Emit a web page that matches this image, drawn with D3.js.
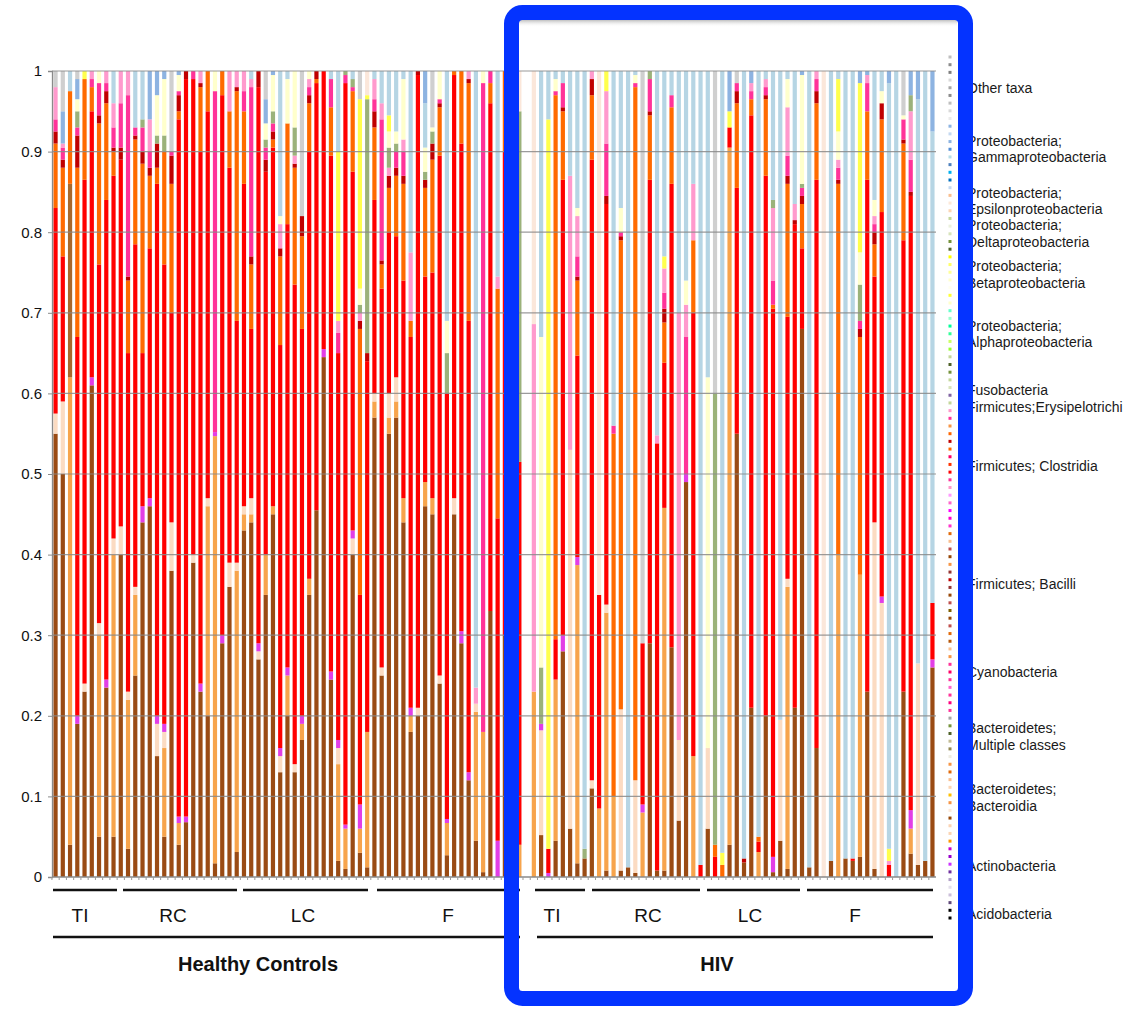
<!DOCTYPE html>
<html><head><meta charset="utf-8">
<script src="https://cdn.jsdelivr.net/npm/d3@7"></script>
<style>body{margin:0;background:#fff;} svg{display:block;font-family:"Liberation Sans",Arial,Helvetica,sans-serif;}</style>
</head><body><svg id="c" width="1127" height="1009"></svg>
<script>
// ---------- categories ----------
const groupNames = ["HC-TI","HC-RC","HC-LC","HC-F","gap","HIV-TI","HIV-RC","HIV-LC","HIV-F"];
const groupSizes = [9,17,18,21,1,8,16,14,18];
const groupLabels = ["TI","RC","LC","F","TI","RC","LC","F"];
const cohortLabels = ["Healthy Controls","HIV"];
const yTicks = [0,0.1,0.2,0.3,0.4,0.5,0.6,0.7,0.8,0.9,1];

// ---------- series values (relative abundance per sample, bottom -> top) ----------
const brown = [.55,.50,.04,.19,.23,.61,.05,.235,.05,.40,
 .035,.25,.44,.46,.15,.05,.38,.04,.068,.39,
 .23,.20,.017,.29,.36,.031,.43,.44,.27,.35,
 .45,.13,.20,.13,.17,.35,.455,.645,.245,.02,
 .01,.40,.03,.012,.57,.25,.55,.57,.44,.18,
 .20,.46,.45,.24,.027,.45,.29,.12,.045,.006,
 .33,0,.30,.20,0,0,0,.052,0,.045,
 .28,.06,.017,.023,.11,0,.008,0,.008,.012,
 .005,0,.29,.008,.008,.285,.07,.49,0,0,
 .06,0,0,.04,.55,.018,.21,0,.20,.006,
 .045,.01,.21,.68,.012,.16,0,.02,0,.023,
 .02,.025,.23,.01,0,0,0,.23,.029,.015,
 .02,.26];
const lorange = [0,0,.58,0,0,0,.25,0,.35,0,
 .185,.10,0,0,0,.11,0,.027,0,0,
 0,.26,.53,0,0,.349,.02,.01,0,.05,
 .01,0,.05,0,.02,.02,0,0,0,.12,
 .05,0,.03,.168,.02,0,.02,.02,.03,.02,
 0,.03,.02,0,.04,0,0,0,.16,.174,
 0,0,0,0,.04,0,.23,0,0,.20,
 0,0,.37,0,0,.085,.32,.10,0,0,
 0,.08,0,0,.45,0,0,0,.15,0,
 0,0,0,.865,0,0,0,.031,0,0,
 0,.35,0,0,0,0,0,0,.40,0,
 0,.35,0,0,0,0,0,0,.031,0,
 0,0];
const peach = [.025,.09,0,0,.01,0,.015,0,.02,.035,
 .01,.01,0,0,.04,.02,.06,0,0,.01,
 0,.01,0,0,.03,.01,.01,.02,.01,0,
 0,.02,0,.01,0,0,0,0,0,.02,
 0,.02,0,0,.01,.01,.03,.03,0,0,
 .01,0,0,.01,0,.02,0,0,.01,0,
 0,0,0,0,0,0,0,.13,0,0,
 0,.47,0,0,.01,0,.01,0,.20,0,
 .115,0,0,0,0,0,.10,0,0,0,
 .10,0,0,0,0,0,0,0,0,0,
 .15,.01,0,0,0,0,0,0,0,0,
 0,0,0,.43,.34,0,0,0,0,.25,
 0,0];
const magenta = [0,0,0,.01,0,.01,0,.01,0,0,
 0,0,.02,.01,.01,.01,0,.008,.007,0,
 .01,0,.005,.01,0,0,0,0,.01,0,
 0,.01,.01,0,.01,0,0,.01,.01,.01,
 .005,.01,.03,0,0,0,0,0,0,.01,
 0,0,0,0,.005,0,.015,.01,0,0,
 0,.045,0,0,0,0,0,.008,.005,0,
 .02,0,.01,0,0,0,0,0,0,0,
 0,.01,0,0,0,0,0,.01,0,0,
 0,0,0,0,0,0,0,0,0,.019,
 0,0,0,0,0,0,0,0,0,0,
 0,0,0,0,.008,0,0,0,.023,0,
 0,.01];
const tan = [0,0,.24,0,0,0,0,0,0,0,
 0,0,0,0,0,0,0,0,0,0,
 0,0,0,0,0,0,0,0,0,0,
 0,0,0,0,0,0,0,0,0,0,
 0,0,0,0,0,0,0,0,0,0,
 0,0,0,0,0,0,0,0,0,0,
 0,0,0,0,0,0,0,0,0,0,
 0,0,0,0,0,0,0,0,0,0,
 0,0,0,0,0,0,0,0,0,0,
 0,0,0,0,0,0,0,0,0,0,
 0,0,0,0,0,0,0,0,0,0,
 0,0,0,0,0,0,0,0,0,0,
 0,0];
const red = [.255,.18,0,.47,.625,.33,.445,.595,.45,.455,
 .42,.425,.19,.31,.66,.57,.26,.865,.915,.59,
 .66,.48,0,.67,.49,.30,.40,.21,.69,.475,
 .445,.50,.55,.595,.48,.53,.53,.345,.64,.48,
 .92,.445,.26,.46,.24,.47,.20,.175,.27,.46,
 .785,.255,.28,.645,.528,.525,.605,.56,0,0,
 .63,.40,.60,.70,.475,0,0,0,.03,.05,
 .565,0,.25,0,.77,.265,.497,0,0,0,
 0,.20,.575,.53,.18,.575,0,0,.55,.015,
 0,.025,0,.025,.305,0,.735,.013,.67,.68,
 0,.325,.60,.10,0,.705,0,0,0,0,
 .003,0,.635,.305,.477,.015,0,.56,.762,0,
 0,.07];
const orange = [.08,.11,.115,.21,.125,.03,.175,.12,.03,0,
 .09,.13,.235,.09,.02,.14,.16,.01,0,0,
 .08,.05,0,.03,.07,.285,.09,.08,0,0,
 .01,.11,.125,.145,.115,.06,.005,0,.06,0,
 0,.10,.33,0,.09,.03,.055,.075,.12,.02,
 0,.11,.14,.06,0,.005,.09,.295,0,0,
 .025,.285,.10,0,0,0,0,0,0,.675,
 .085,0,.093,0,.08,0,0,.45,.582,0,
 .86,0,.08,0,.05,.095,0,0,.09,0,
 0,.015,.015,0,.105,0,.02,.006,.095,.005,
 0,.165,0,.055,0,.095,0,0,.46,0,
 0,.295,.085,.04,.115,0,0,.12,0,0,
 0,0];
const dred = [.015,.01,0,.04,0,0,.01,.015,.005,.015,
 .005,.005,.015,.01,.03,0,.035,.02,.01,0,
 .005,0,0,0,0,.005,0,.01,.02,.015,
 .01,.01,0,.005,.025,.01,.01,0,0,0,
 0,0,.01,.01,.02,.005,.015,.01,.01,0,
 .005,.01,.02,.005,0,0,0,.005,0,0,
 0,0,0,0,0,0,0,0,0,0,
 .005,0,.005,0,.02,0,.01,0,.005,0,
 0,0,.005,0,.017,0,0,0,0,0,
 0,0,0,0,.015,.005,0,0,.005,0,
 0,.01,.005,.01,0,.015,0,0,.005,0,
 0,.01,0,.015,.02,0,0,.005,.005,0,
 0,0];
const hpink = [.015,.015,0,.01,0,.01,.04,.01,.025,.055,
 .225,.01,.03,.02,0,0,.005,.005,0,.01,
 0,0,.423,0,0,0,.025,.21,0,.015,
 .01,0,0,0,0,.01,0,0,.035,.025,
 .01,.005,0,0,.015,.175,0,.02,.03,0,
 0,0,0,.005,0,0,0,0,0,.805,
 .015,0,0,0,0,0,0,0,0,.005,
 .03,0,.025,0,0,0,.065,.01,.005,0,
 .005,0,.04,0,.02,.015,0,.17,0,0,
 0,0,0,0,.01,0,.01,0,.01,.03,
 0,.025,0,.01,0,.015,0,0,.015,0,
 0,.01,.035,.01,0,0,0,.025,.04,0,
 0,0];
const lpink = [.04,.005,0,0,0,.01,0,.015,.03,.04,
 .03,0,0,.04,0,0,0,0,0,0,
 .015,0,0,0,.05,.02,.025,.01,0,0,
 0,.03,0,.01,0,.01,0,0,0,.015,
 0,0,.01,0,.025,.02,.01,0,.015,.085,
 0,0,0,0,0,0,0,.01,.02,0,
 0,.015,0,.10,0,0,.456,0,0,0,
 0,.34,.05,0,.01,0,.065,0,0,0,
 0,0,0,.01,.03,0,.53,.04,.07,0,
 0,0,0,0,0,0,.01,0,.01,.09,
 0,.06,.02,0,0,.01,0,0,.01,0,
 0,0,.01,.01,0,.005,0,0,.06,0,
 0,0];
const green = [0,0,0,.02,0,0,0,0,0,0,
 0,0,.01,0,.01,.02,0,0,0,0,
 0,0,0,0,0,0,0,0,0,.01,
 .015,0,0,.035,0,0,0,0,0,0,
 .005,.01,.01,.315,0,0,.025,.01,0,0,
 0,.01,.015,0,.05,0,0,0,0,0,
 0,0,0,0,.435,0,0,.07,0,0,
 0,0,0,.012,0,0,0,0,0,0,
 0,0,.01,0,0,0,0,0,0,0,
 0,.56,0,0,0,0,0,0,0,.01,
 0,0,0,.005,0,0,0,0,0,0,
 0,.045,0,0,0,0,0,0,.02,0,
 0,0];
const lyellow = [0,0,0,.015,0,0,.015,0,0,0,
 0,0,0,0,.05,.07,0,.02,0,0,
 0,0,.025,0,0,0,0,0,0,.02,
 .045,.01,.055,.07,0,.01,0,0,0,0,
 0,0,.02,0,0,0,.02,.015,.075,0,
 0,.03,.005,.035,.04,0,0,0,0,.015,
 0,0,0,0,0,0,0,.41,0,.015,
 0,0,.01,0,0,0,0,0,.03,0,
 .01,0,0,0,0,0,0,.03,0,0,
 .46,0,0,0,0,0,0,0,0,0,
 0,.035,0,.135,0,0,0,0,.035,0,
 0,.04,0,.02,.015,0,0,.005,0,0,
 0,0];
const yellow = [0,0,0,0,.01,0,0,0,0,0,
 0,0,0,0,0,0,0,0,0,0,
 0,0,0,0,0,0,0,0,0,0,
 0,0,0,0,0,0,0,0,0,.21,
 0,0,.235,.005,0,0,.02,0,0,0,
 0,0,0,0,0,0,0,0,0,0,
 0,0,0,0,0,0,0,0,.905,0,
 0,0,0,0,0,0,.025,0,0,0,
 0,0,0,0,.015,0,0,0,0,0,
 0,0,.015,.02,0,0,0,0,0,0,
 0,0,0,0,0,0,0,0,.065,0,
 0,.21,0,0,0,.015,0,0,0,0,
 0,0];
const tpeach = [0,0,0,0,0,0,0,0,0,0,
 0,0,0,0,0,0,0,0,0,0,
 0,0,0,0,0,0,0,0,0,0,
 0,0,0,0,0,0,0,0,0,0,
 0,0,0,.03,0,0,0,0,0,0,
 0,0,0,0,0,0,0,0,0,0,
 0,0,0,0,.05,0,.314,0,0,0,
 0,0,0,0,0,.65,0,0,0,0,
 0,0,0,0,0,0,0,0,0,0,
 0,0,0,0,0,0,0,0,0,0,
 0,0,0,0,0,0,1.0,0,0,0,
 0,0,0,0,0,0,0,0,0,0,
 0,0];
const lblue = [0,0,.025,0,0,0,0,0,.04,0,
 0,.07,.06,0,0,0,0,0,0,0,
 0,0,0,0,0,0,0,.01,0,0,
 0,.18,.01,0,0,0,0,0,.01,.10,
 0,.01,0,0,.01,.04,.075,.075,.01,.225,
 0,.055,0,0,.31,0,0,0,.765,0,
 0,.255,0,0,0,0,0,.33,.06,.01,
 .015,.13,.17,.965,0,0,0,.44,.17,.988,
 .005,0,0,.452,.23,.03,.30,.26,.14,.985,
 .38,0,.97,0,0,.977,0,.95,.01,.16,
 .805,.01,.165,0,.988,0,0,.98,.01,.977,
 .977,0,0,.16,.025,.95,1.0,0,0,.70,
 .98,.585];
const blue = [0,.04,0,.025,0,0,0,0,0,0,
 0,0,0,.06,.03,.01,0,.005,0,0,
 0,0,0,0,0,0,0,0,0,.03,
 .005,0,0,0,0,0,0,0,0,0,
 0,0,0,0,0,0,0,0,0,0,
 0,.04,0,0,0,0,0,0,0,0,
 0,0,0,0,0,0,0,0,0,0,
 0,0,0,0,0,0,0,0,0,0,
 0,0,0,0,0,0,0,0,0,0,
 0,0,0,.05,0,0,.015,0,0,0,
 0,0,0,.005,0,0,0,0,0,0,
 0,.015,.005,0,0,.015,0,0,.03,.035,
 0,.075];
const grey = [.02,.05,0,.01,0,0,0,0,0,0,
 0,0,0,0,0,0,.10,0,0,0,
 0,0,0,0,0,0,0,0,0,.035,
 0,0,0,0,.18,0,0,0,0,0,
 0,0,.035,0,0,0,0,0,0,0,
 0,0,.07,0,0,0,0,0,0,0,
 0,0,0,0,0,0,0,0,0,0,
 0,0,0,0,0,0,0,0,0,0,
 0,.71,0,0,0,0,0,0,0,0,
 0,.40,0,0,.015,0,0,0,0,0,
 0,0,0,0,0,0,0,0,0,0,
 0,0,0,0,0,0,0,.055,0,0,
 0,0];

// legend text and marker colours
const legendTexts = [
 ["Other taxa"],["Proteobacteria;","Gammaproteobacteria"],["Proteobacteria;","Epsilonproteobacteria"],
 ["Proteobacteria;","Deltaproteobacteria"],["Proteobacteria;","Betaproteobacteria"],["Proteobacteria;","Alphaproteobacteria"],
 ["Fusobacteria"],["Firmicutes;Erysipelotrichi"],["Firmicutes; Clostridia"],["Firmicutes; Bacilli"],["Cyanobacteria"],
 ["Bacteroidetes;","Multiple classes"],["Bacteroidetes;","Bacteroidia"],["Actinobacteria"],["Acidobacteria"]];
const legendMarkers = [
 "#bfbfbf","#8c8c8c","#7f7f7f","#d9d9d9","#a6a6a6","#8c8c8c","#bfbfbf","#d9d9d9","#ebebeb",
 "#8db4e2","#c5d9f1","#8db4e2","#538dd5","#b7dee8","#4f81bd","#00b0f0","#0070c0","#c5d9f1",
 "#fabf8f","#fde9d9","#fcd5b4",
 "#c4d79b","#ebf1de","#d8e4bc","#76933c","#4f6228",
 "#ffff00","#ffff66","#ffff99","#ffffcc","#fffff0","#ffff33","#ffffcc",
 "#66ffcc","#99ffcc","#00ff99","#33ff99","#ccff66","#99ff33",
 "#c4d79b","#4f6228","#76933c","#c4d79b","#d8e4bc",
 "#8064a2","#c4d79b","#ff99cc",
 "#ff3399","#f79646","#ff6600","#c00000","#ff6600","#ff0066","#ff3300","#ff0000","#ff3399","#ff99cc","#ff99ff","#ff66cc","#ff00ff","#ff00cc","#ff33cc",
 "#e26b0a","#fabf8f","#c0504d","#974706","#f79646","#963634","#c00000","#953735","#984807","#c0504d","#7f6000","#974706","#c0504d","#e26b0a","#b65708","#fac090","#f79646",
 "#ff3399","#ff0066","#ff3399","#ff66cc","#ff3399","#ff0080","#ff3399",
 "#a6a6a6","#76933c","#4f6228","#c4bd97","#938953","#eeece1",
 "#f79646","#e26b0a","#fabf8f","#fcd5b4","#ffc000","#f79646","#fde9d9","#974706","#fbd4b4","#fcd5b4","#ff9900",
 "#cc00cc","#9900cc","#cc33ff","#7030a0","#b1a0c7","#e4dfec","#ccc0da","#60497a",
 "#000000","#000000"];

// ---------- styling ----------
const layerKeys = ["brown","lorange","peach","magenta","tan","red","orange","dred","hpink","lpink","green","lyellow","yellow","tpeach","lblue","blue","grey"];
const layerData = {brown,lorange,peach,magenta,tan,red,orange,dred,hpink,lpink,green,lyellow,yellow,tpeach,lblue,blue,grey};
const layerColors = {brown:"#9a4b14",lorange:"#f7a44c",peach:"#fbdbc2",magenta:"#e23ee6",tan:"#a8692c",red:"#ff0000",
 orange:"#ff6a00",dred:"#c00000",hpink:"#ff3399",lpink:"#ff9acd",green:"#9bb27a",lyellow:"#ffffcc",yellow:"#ffff4d",
 tpeach:"#fbe7da",lblue:"#b6d5e4",blue:"#8db3e1",grey:"#cfcfcf"};
const legendLabelY = [93,[146,162],[198,214],[230,247],[271,288],[331,347],395,412,471,589,677,[733,750],[794,811],871,919];
const groupLinePx = [[53,117],[123,237],[243,368],[377,520],[535,585],[592,700],[707,800],[807,933]];
const groupLabelX = [80,173,303,448,552,648,750,855];
const cohortLinePx = [[53,520],[537,933]];
const cohortLabelX = [258,717];

// ---------- build ----------
const sampleIds = [];
groupNames.forEach((g,gi)=>{ for(let k=0;k<groupSizes[gi];k++) sampleIds.push(g+"-"+(k+1)); });
const table = sampleIds.map((id,i)=>{ const o={id}; layerKeys.forEach(k=>o[k]=layerData[k][i]||0); return o; });
const series = d3.stack().keys(layerKeys)(table);

const svg = d3.select("#c");
const x = d3.scaleBand().domain(sampleIds).range([52,936]).paddingInner(0.42).paddingOuter(0.2);
const y = d3.scaleLinear().domain([0,1]).range([877,71]).clamp(true);

// bars
svg.append("g").selectAll("g").data(series).join("g").attr("fill",s=>layerColors[s.key])
 .selectAll("rect").data(s=>s.filter(d=>d[1]-d[0]>0)).join("rect")
 .attr("x",d=>x(d.data.id)).attr("width",x.bandwidth())
 .attr("y",d=>y(d[1])).attr("height",d=>Math.max(0,y(d[0])-y(d[1])));

// gridlines (drawn over the bars, as in the reference)
svg.append("g").selectAll("line").data(yTicks.filter(t=>t>0)).join("line")
 .attr("x1",52).attr("x2",936).attr("y1",d=>y(d)).attr("y2",d=>y(d))
 .attr("stroke","#8a8a8a").attr("stroke-width",1.2).attr("stroke-opacity",0.85);

// y axis
const yAxis = svg.append("g").attr("transform","translate(52,0)")
 .call(d3.axisLeft(y).tickValues(yTicks).tickFormat(d3.format("~g")).tickSize(4).tickPadding(6));
yAxis.select(".domain").attr("stroke","#8a8a8a").attr("stroke-width",1.3);
yAxis.selectAll(".tick line").attr("stroke","#8a8a8a");
yAxis.selectAll("text").attr("font-size",15).attr("fill","#111").attr("font-family","'Liberation Sans',Arial,sans-serif");

// x axis baseline & small ticks
svg.append("line").attr("x1",52).attr("x2",936).attr("y1",877).attr("y2",877).attr("stroke","#8a8a8a").attr("stroke-width",1.3);
svg.append("g").selectAll("line").data(sampleIds).join("line")
 .attr("x1",d=>x(d)-x.step()*0.21).attr("x2",d=>x(d)-x.step()*0.21)
 .attr("y1",877).attr("y2",880).attr("stroke","#9a9a9a").attr("stroke-width",1);

// group lines and labels
svg.append("g").selectAll("line").data(groupLinePx).join("line")
 .attr("x1",d=>d[0]).attr("x2",d=>d[1]).attr("y1",890).attr("y2",890).attr("stroke","#111").attr("stroke-width",2.6);
svg.append("g").selectAll("text").data(groupLabels).join("text")
 .attr("x",(d,i)=>groupLabelX[i]).attr("y",922).attr("text-anchor","middle").attr("font-size",19).attr("fill","#111").text(d=>d);
svg.append("g").selectAll("line").data(cohortLinePx).join("line")
 .attr("x1",d=>d[0]).attr("x2",d=>d[1]).attr("y1",937).attr("y2",937).attr("stroke","#111").attr("stroke-width",2.6);
svg.append("g").selectAll("text").data(cohortLabels).join("text")
 .attr("x",(d,i)=>cohortLabelX[i]).attr("y",971).attr("text-anchor","middle").attr("font-size",20).attr("font-weight","bold").attr("fill","#111").text(d=>d);

// legend markers
const mStep = (918-57)/(legendMarkers.length-1);
svg.append("g").selectAll("rect").data(legendMarkers).join("rect")
 .attr("x",948.5).attr("y",(d,i)=>57+i*mStep-1.5).attr("width",3).attr("height",3).attr("fill",d=>d);

// legend labels
const lg = svg.append("g").attr("font-size",14).attr("fill","#1a1a1a");
legendTexts.forEach((lines,i)=>{
 const ys = Array.isArray(legendLabelY[i]) ? legendLabelY[i] : [legendLabelY[i]];
 lines.forEach((t,j)=>lg.append("text").attr("x",967).attr("y",ys[j]).text(t));
});

// highlight box around HIV
const defs = svg.append("defs");
const grad = defs.append("linearGradient").attr("id","sh").attr("x1",0).attr("x2",0).attr("y1",0).attr("y2",1);
grad.append("stop").attr("offset","0").attr("stop-color","#888").attr("stop-opacity",0.7);
grad.append("stop").attr("offset","1").attr("stop-color","#fff").attr("stop-opacity",0);
svg.append("rect").attr("x",519).attr("y",19).attr("width",438).attr("height",8).attr("fill","url(#sh)");
svg.append("rect").attr("x",511.5).attr("y",12.5).attr("width",454).attr("height",986).attr("rx",11)
 .attr("fill","none").attr("stroke","#0433ff").attr("stroke-width",15);
</script></body></html>
